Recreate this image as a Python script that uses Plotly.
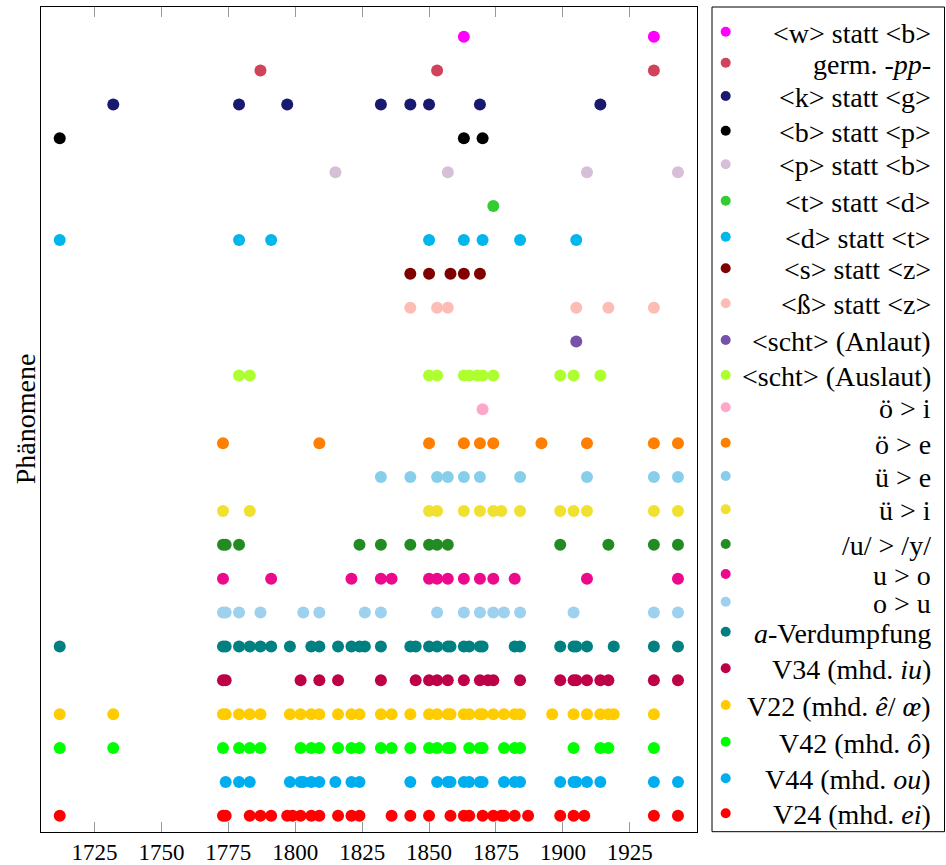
import plotly.graph_objects as go

W, H = 946, 865
FONT = "Liberation Serif"

# ---- data: years in which each phenomenon is attested ----
years_w_statt_b = [1863, 1934]
years_germ_pp = [1787, 1853, 1934]
years_k_statt_g = [1732, 1779, 1797, 1832, 1843, 1850, 1869, 1914]
years_b_statt_p = [1712, 1863, 1870]
years_p_statt_b = [1815, 1857, 1909, 1943]
years_t_statt_d = [1874]
years_d_statt_t = [1712, 1779, 1791, 1850, 1863, 1870, 1884, 1905]
years_s_statt_z = [1843, 1850, 1858, 1863, 1869]
years_sz_statt_z = [1843, 1853, 1857, 1905, 1917, 1934]
years_scht_anlaut = [1905]
years_scht_auslaut = [1779, 1783, 1850, 1853, 1863, 1865, 1868, 1870, 1874, 1899, 1904, 1914]
years_oe_i = [1870]
years_oe_e = [1773, 1809, 1850, 1863, 1869, 1874, 1892, 1909, 1934, 1943]
years_ue_e = [1832, 1843, 1853, 1857, 1863, 1869, 1884, 1909, 1934, 1943]
years_ue_i = [1773, 1783, 1850, 1853, 1863, 1869, 1874, 1877, 1884, 1899, 1904, 1909, 1934, 1943]
years_u_y = [1773, 1774, 1779, 1824, 1832, 1843, 1850, 1853, 1857, 1899, 1917, 1934, 1943]
years_u_o = [1773, 1791, 1821, 1832, 1836, 1850, 1853, 1857, 1863, 1869, 1874, 1882, 1909, 1943]
years_o_u = [1773, 1774, 1779, 1787, 1803, 1809, 1826, 1832, 1853, 1863, 1869, 1874, 1878, 1884, 1904, 1934, 1943]
years_a_verdumpfung = [1712, 1773, 1774, 1779, 1783, 1787, 1791, 1798, 1806, 1809, 1816, 1821, 1824, 1826,
                       1832, 1843, 1845, 1850, 1853, 1857, 1858, 1863, 1865, 1869, 1870, 1882, 1884,
                       1899, 1904, 1905, 1909, 1919, 1934, 1943]
years_V34 = [1773, 1774, 1802, 1809, 1816, 1832, 1845, 1850, 1853, 1857, 1863, 1869, 1872, 1874,
             1884, 1899, 1904, 1905, 1909, 1914, 1917, 1934, 1943]
years_V22 = [1712, 1732, 1773, 1774, 1779, 1783, 1787, 1798, 1802, 1806, 1809, 1816, 1821, 1824,
             1832, 1836, 1843, 1850, 1853, 1857, 1858, 1863, 1865, 1869, 1870, 1874, 1878, 1882,
             1884, 1896, 1904, 1909, 1914, 1917, 1919, 1934]
years_V42 = [1712, 1732, 1773, 1779, 1783, 1787, 1802, 1806, 1809, 1816, 1821, 1824, 1832, 1836,
             1843, 1850, 1853, 1857, 1858, 1865, 1869, 1870, 1878, 1882, 1884, 1904, 1914, 1917, 1934]
years_V44 = [1774, 1779, 1783, 1798, 1802, 1803, 1806, 1809, 1815, 1821, 1824, 1843, 1853, 1857,
             1858, 1863, 1865, 1869, 1870, 1878, 1882, 1884, 1899, 1904, 1905, 1909, 1914, 1934, 1943]
years_V24 = [1712, 1773, 1774, 1783, 1787, 1791, 1797, 1799, 1802, 1806, 1809, 1816, 1821, 1824,
             1836, 1843, 1850, 1858, 1863, 1865, 1870, 1874, 1877, 1878, 1882, 1887, 1899, 1904,
             1908, 1934, 1943]

# category names (top to bottom, as in the legend)
categories = [
    "&lt;w&gt; statt &lt;b&gt;", "germ. <i>-pp-</i>", "&lt;k&gt; statt &lt;g&gt;",
    "&lt;b&gt; statt &lt;p&gt;", "&lt;p&gt; statt &lt;b&gt;", "&lt;t&gt; statt &lt;d&gt;",
    "&lt;d&gt; statt &lt;t&gt;", "&lt;s&gt; statt &lt;z&gt;", "&lt;ß&gt; statt &lt;z&gt;",
    "&lt;scht&gt; (Anlaut)", "&lt;scht&gt; (Auslaut)", "ö &gt; i", "ö &gt; e", "ü &gt; e",
    "ü &gt; i", "/u/ &gt; /y/", "u &gt; o", "o &gt; u", "<i>a</i>-Verdumpfung",
    "V34 (mhd. <i>iu</i>)", "V22 (mhd. <i>ê</i>/ <i>œ</i>)", "V42 (mhd. <i>ô</i>)",
    "V44 (mhd. <i>ou</i>)", "V24 (mhd. <i>ei</i>)",
]
series_years = [
    years_w_statt_b, years_germ_pp, years_k_statt_g, years_b_statt_p, years_p_statt_b,
    years_t_statt_d, years_d_statt_t, years_s_statt_z, years_sz_statt_z, years_scht_anlaut,
    years_scht_auslaut, years_oe_i, years_oe_e, years_ue_e, years_ue_i, years_u_y, years_u_o,
    years_o_u, years_a_verdumpfung, years_V34, years_V22, years_V42, years_V44, years_V24,
]
colors = [
    "#ff00ff", "#d1435b", "#191970", "#000000", "#d8bfd8", "#32cd32", "#00b7eb", "#800000",
    "#fdbcb4", "#7852a9", "#adff2f", "#ffa6c9", "#ff7f00", "#87ceeb", "#f0e130", "#228b22",
    "#ec0a8c", "#9dd1ed", "#008080", "#be0046", "#ffcc00", "#00ff00", "#00aeef", "#ff0000",
]
x_tick_values = [1725, 1750, 1775, 1800, 1825, 1850, 1875, 1900, 1925]

# ---- layout constants (pixels) ----
PLOT_L, PLOT_R, PLOT_T, PLOT_B = 41, 696.7, 6.7, 831.7
LEG_L, LEG_R, LEG_T, LEG_B = 712, 944.5, 7, 831.7
LEG_MARK_X, LEG_TEXT_X = 725.7, 932.7
LEG_ROW_Y = [31.7, 62.7, 96, 130.7, 164.3, 200.7, 236.7, 268.3, 303.3, 340, 375, 407.3,
             442.7, 476, 509.3, 544, 574, 601.7, 631.7, 668.3, 705, 741.7, 778.3, 813.3]

n = len(categories)
fig = go.Figure()

# main scatter: row index 0 = bottom category (V24)
for i, (name, yrs, col) in enumerate(zip(categories, series_years, colors)):
    row = n - 1 - i
    fig.add_trace(go.Scatter(
        x=yrs, y=[row] * len(yrs), mode="markers", name=name,
        marker=dict(size=12, color=col, line=dict(width=0)),
        showlegend=False, xaxis="x", yaxis="y", hoverinfo="x+name",
    ))

# legend markers on a pixel-coordinate helper axis covering only the legend column
fig.add_trace(go.Scatter(
    x=[LEG_MARK_X] * n, y=LEG_ROW_Y, mode="markers",
    marker=dict(size=10, color=colors, line=dict(width=0)),
    showlegend=False, xaxis="x2", yaxis="y2", hoverinfo="skip", cliponaxis=False,
))

annotations = []
for name, yy in zip(categories, LEG_ROW_Y):
    annotations.append(dict(
        x=LEG_TEXT_X, y=yy + 1.5, xref="x2", yref="y2", text=name, showarrow=False,
        xanchor="right", yanchor="middle", font=dict(family=FONT, size=28, color="black"),
    ))
annotations.append(dict(
    x=25 / W, y=1 - (PLOT_T + PLOT_B) / 2 / H, xref="paper", yref="paper", text="Phänomene",
    textangle=-90, showarrow=False, xanchor="center", yanchor="middle",
    font=dict(family=FONT, size=28, color="black"),
))

fig.update_layout(
    width=W, height=H, margin=dict(l=0, r=0, t=0, b=0, pad=0),
    paper_bgcolor="white", plot_bgcolor="rgba(0,0,0,0)",
    showlegend=False,
    font=dict(family=FONT, color="black"),
    xaxis=dict(
        domain=[PLOT_L / W, PLOT_R / W], range=[1705, 1950], tickvals=x_tick_values,
        ticks="inside", ticklen=10, tickwidth=1, tickcolor="#999999",
        showline=True, linecolor="black", linewidth=1, mirror="allticks",
        showgrid=False, zeroline=False, automargin=False,
        tickfont=dict(family=FONT, size=23, color="black"), anchor="y",
    ),
    yaxis=dict(
        domain=[1 - PLOT_B / H, 1 - PLOT_T / H], range=[-0.47, 23.886],
        showticklabels=False, ticks="", showline=True, linecolor="black", linewidth=1,
        mirror=True, showgrid=False, zeroline=False, automargin=False, anchor="x",
    ),
    xaxis2=dict(domain=[LEG_L / W, LEG_R / W], range=[LEG_L, LEG_R], visible=False,
                anchor="y2", fixedrange=True),
    yaxis2=dict(domain=[0, 1], range=[H, 0], visible=False, anchor="x2", fixedrange=True),
    shapes=[dict(
        type="rect", xref="paper", yref="paper",
        x0=LEG_L / W, x1=LEG_R / W, y0=1 - LEG_B / H, y1=1 - LEG_T / H,
        line=dict(color="black", width=1), fillcolor="rgba(0,0,0,0)", layer="above",
    )],
    annotations=annotations,
)

fig.write_html("out.html", config={"displayModeBar": False},
               post_script="document.body.style.margin='0';")
